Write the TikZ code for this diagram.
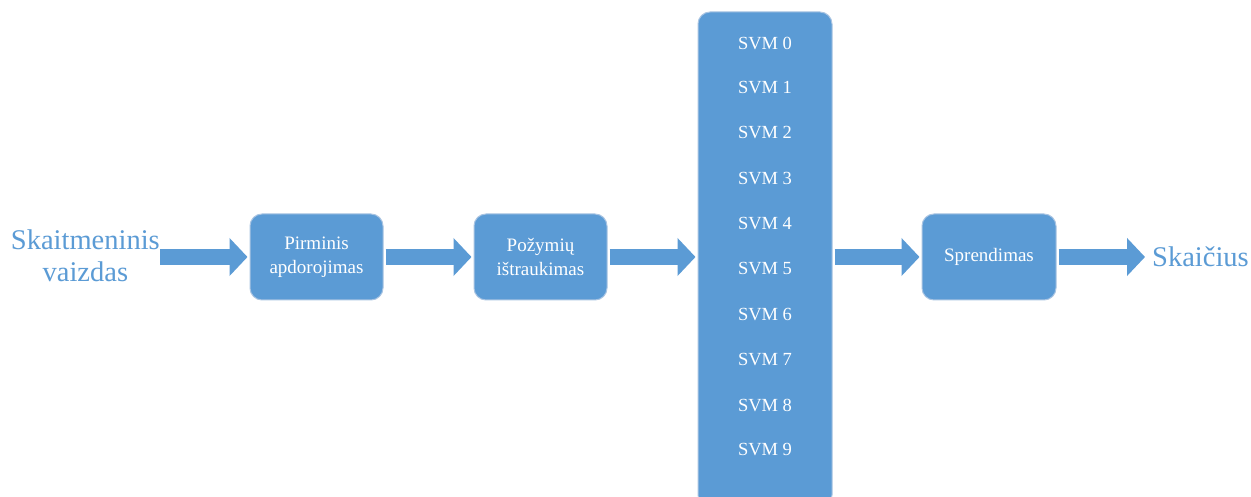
\documentclass[tikz,border=0pt]{standalone}
\usepackage{fontspec}
\setmainfont{Liberation Serif}
\usetikzlibrary{arrows.meta}
\definecolor{boxblue}{HTML}{5B9BD5}
\definecolor{boxedge}{HTML}{A9C4E2}
\begin{document}
\begin{tikzpicture}[x=1pt,y=1pt,
  procbox/.style={draw=boxedge, line width=1pt, fill=boxblue, rounded corners=12pt,
    text=white, align=center, font=\fontsize{19}{24}\selectfont, inner sep=0pt},
  bigtext/.style={text=boxblue, align=center, font=\fontsize{28.5}{32}\selectfont, inner sep=0pt},
  svmlabel/.style={text=white, font=\fontsize{18.5}{20}\selectfont, inner sep=0pt},
  blockarrow/.style={draw=boxblue, line width=16pt,
    -{Triangle[length=18pt,width=37pt]}, shorten <=2pt, shorten >=2pt}]
\clip (0,0) rectangle (1251,497);
\fill[white] (0,0) rectangle (1251,497);
% input text
\node[bigtext, anchor=east] (inp) at (160,241) {Skaitmeninis\\vaizdas};
% boxes
\node[procbox, minimum width=133pt, minimum height=86pt] (pirm) at (316.5,240) {Pirminis\\apdorojimas};
\node[procbox, minimum width=133pt, minimum height=86pt] (poz) at (540.5,240) {Požymių\\ištraukimas};
\node[procbox, minimum width=134pt, minimum height=495pt] (svm) at (765,237.5) {};
\node[procbox, minimum width=134pt, minimum height=86pt] (spr) at (989,240) {Sprendimas};
% svm labels
\foreach \i/\yy in {0/43,1/88,2/133,3/179,4/224,5/269,6/315,7/360,8/405,9/450}{
  \node[svmlabel] (svm\i) at (765,497-\yy) {SVM \i};
}
% output text
\node[bigtext, anchor=west] (out) at (1152,240) {Skaičius};
% arrows
\draw[blockarrow, shorten <=0pt] (inp.east |- pirm.west) -- (pirm.west);
\draw[blockarrow] (pirm.east) -- (poz.west);
\draw[blockarrow] (poz.east) -- (svm.west |- poz.east);
\draw[blockarrow] (svm.east |- spr.west) -- (spr.west);
\draw[blockarrow, shorten >=7pt] (spr.east) -- (out.west);
\end{tikzpicture}
\end{document}
